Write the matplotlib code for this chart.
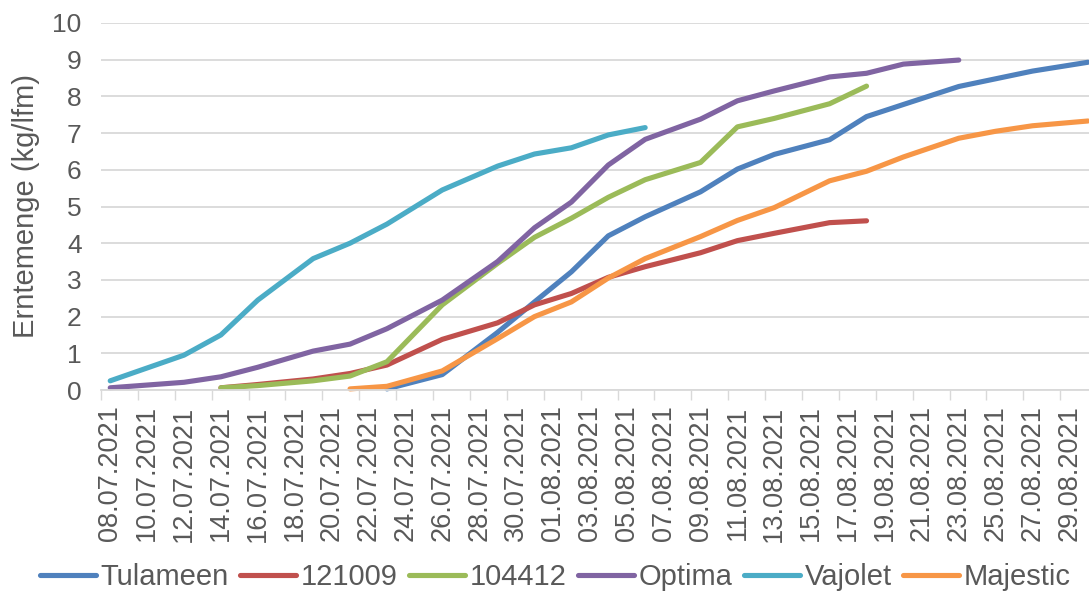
#!/usr/bin/env python3
"""Cumulative harvest (kg/lfm) per variety, summer 2021."""

import matplotlib
import matplotlib.pyplot as plt
import pandas as pd

matplotlib.use("Agg")

plt.rcParams["font.family"] = ["Liberation Sans", "DejaVu Sans"]

# measurement dates (union of all varieties)
DATES = [
    "08.07.2021", "12.07.2021", "14.07.2021", "16.07.2021", "19.07.2021",
    "21.07.2021", "23.07.2021", "26.07.2021", "29.07.2021", "31.07.2021",
    "02.08.2021", "04.08.2021", "06.08.2021", "09.08.2021", "11.08.2021",
    "13.08.2021", "16.08.2021", "18.08.2021", "20.08.2021", "23.08.2021",
    "25.08.2021", "27.08.2021", "30.08.2021",
]

N = None
TULAMEEN = [N, N, N, N, N, N, 0.03, 0.42, 1.57, 2.4, 3.22, 4.2, 4.72, 5.4,
            6.02, 6.42, 6.82, 7.45, 7.78, 8.27, 8.48, 8.69, 8.93]
S121009 = [N, N, 0.06, 0.15, 0.3, 0.45, 0.68, 1.38, 1.83, 2.32, 2.63, 3.07,
           3.36, 3.74, 4.07, 4.27, 4.56, 4.61, N, N, N, N, N]
S104412 = [N, N, 0.06, 0.12, 0.25, 0.38, 0.77, 2.32, 3.45, 4.16, 4.68, 5.25,
           5.73, 6.2, 7.17, 7.4, 7.8, 8.28, N, N, N, N, N]
OPTIMA = [0.06, 0.21, 0.36, 0.62, 1.06, 1.25, 1.67, 2.45, 3.5, 4.42, 5.12,
          6.13, 6.83, 7.38, 7.88, 8.15, 8.53, 8.63, 8.88, 8.99, N, N, N]
VAJOLET = [0.25, 0.95, 1.5, 2.45, 3.58, 4.0, 4.52, 5.45, 6.1, 6.43, 6.6,
           6.95, 7.15, N, N, N, N, N, N, N, N, N, N]
MAJESTIC = [N, N, N, N, N, 0.03, 0.1, 0.52, 1.4, 2.0, 2.4, 3.05, 3.58, 4.18,
            4.62, 4.97, 5.7, 5.96, 6.35, 6.86, 7.05, 7.2, 7.33]

SERIES = {
    "Tulameen": (TULAMEEN, "#4F81BD"),
    "121009": (S121009, "#C0504D"),
    "104412": (S104412, "#9BBB59"),
    "Optima": (OPTIMA, "#8064A2"),
    "Vajolet": (VAJOLET, "#4BACC6"),
    "Majestic": (MAJESTIC, "#F79646"),
}

AXIS_START = "08.07.2021"
AXIS_END = "29.08.2021"

TEXT = "#595959"
GRID = "#D9D9D9"


def main():
    start = pd.to_datetime(AXIS_START, format="%d.%m.%Y")
    dates = pd.to_datetime(pd.Series(DATES), format="%d.%m.%Y")
    days = (dates - start).dt.days.to_numpy()

    fig = plt.figure(figsize=(10.89, 5.95), dpi=100)
    ax = fig.add_axes([101 / 1089, 205 / 595, 988 / 1089, 367 / 595])

    for name, (vals, colour) in SERIES.items():
        s = pd.Series(vals, dtype=float)
        mask = s.notna().to_numpy()
        ax.plot(days[mask], s[mask], color=colour, lw=3.7, label=name,
                solid_capstyle="round", solid_joinstyle="round", clip_on=False)

    # category-style date axis: labels every 2nd day, marks between days
    label_dates = pd.date_range(start, pd.to_datetime(AXIS_END, format="%d.%m.%Y"), freq="2D")
    label_pos = (label_dates - start).days
    ax.set_xticks(label_pos)
    ax.set_xticklabels(label_dates.strftime("%d.%m.%Y"), rotation=90, fontsize=19.5, color=TEXT)
    ax.set_xticks([p - 0.5 for p in label_pos] + [label_pos[-1] + 1.5], minor=True)
    ax.tick_params(axis="x", which="major", length=0, pad=11)
    ax.tick_params(axis="x", which="minor", length=7, width=1, color=GRID)
    ax.set_xlim(-0.5, 53.06)

    ax.set_ylim(0, 10)
    ax.set_yticks(range(0, 11))
    ax.tick_params(axis="y", length=0, pad=14, labelsize=19, labelcolor=TEXT)
    ax.yaxis.grid(True, color=GRID, lw=1.3)
    ax.set_axisbelow(True)
    ax.set_ylabel("Erntemenge (kg/lfm)", fontsize=21, color=TEXT, labelpad=9)

    for side in ("top", "right", "left"):
        ax.spines[side].set_visible(False)
    ax.spines["bottom"].set_color(GRID)
    ax.spines["bottom"].set_linewidth(1.3)

    fig.legend(loc="lower center", bbox_to_anchor=(0.51, -0.038), ncol=6,
               frameon=False, fontsize=21, labelcolor=TEXT, handlelength=1.9,
               handletextpad=0.17, columnspacing=0.4)

    fig.savefig("out.png", dpi=100)
    plt.close(fig)


if __name__ == "__main__":
    main()
